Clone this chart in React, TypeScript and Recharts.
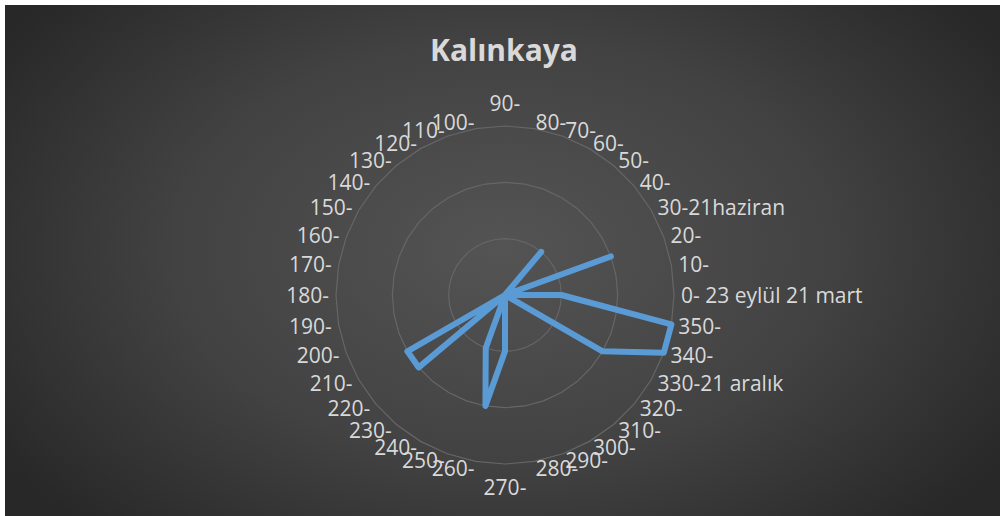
import React from 'react'
import { RadarChart, Radar, PolarGrid, PolarAngleAxis, PolarRadiusAxis } from 'recharts'

// categories clockwise from the top, as in the sheet
const categories = [
  '90-', '80-', '70-', '60-', '50-', '40-', '30-21haziran', '20-', '10-',
  '0- 23 eylül 21 mart', '350-', '340-', '330-21 aralık', '320-', '310-', '300-', '290-', '280-',
  '270-', '260-', '250-', '240-', '230-', '220-', '210-', '200-', '190-',
  '180-', '170-', '160-', '150-', '140-', '130-', '120-', '110-', '100-',
]
const values = [
  0, 0, 0, 0, 1, 0, 0, 2, 0,
  1, 3, 3, 2, 0, 0, 0, 0, 0,
  1, 2, 1, 0, 0, 2, 2, 0, 0,
  0, 0, 0, 0, 0, 0, 0, 0, 0,
]

const CX = 505
const CY = 295
const R = 169
const LABEL = '#d9d9d9'
const FONT = '"Open Sans", "Noto Sans", sans-serif'

function AngleTick(props: any) {
  const { payload } = props
  const a = (payload.coordinate * Math.PI) / 180
  const cos = Math.cos(a)
  const sin = Math.sin(a)
  const anchor: 'start' | 'middle' | 'end' = cos > 0.01 ? 'start' : cos < -0.01 ? 'end' : 'middle'
  const r = anchor === 'middle' ? 192 : 176
  const x = CX + r * cos
  const y = CY - r * sin
  return (
    <text x={x} y={y} textAnchor={anchor} dominantBaseline="central" fill={LABEL} fontSize={21} fontFamily={FONT}>
      {payload.value}
    </text>
  )
}

export default function App() {
  const data = categories.map((c, i) => ({ name: c, v: values[i] }))

  return (
    <div style={{ position: 'absolute', left: 0, top: 0, width: 1000, height: 516, background: '#fff' }}>
      <div
        style={{
          position: 'absolute', left: 5, top: 5, width: 995, height: 511,
          background: 'radial-gradient(ellipse 60% 75% at 50% 48%, #545454 0%, #424242 55%, #282828 100%)',
        }}
      />
      <div style={{ position: 'absolute', left: 0, top: 0, width: 1000, height: 516 }}>
        <div style={{ position: 'absolute', left: 0, width: 1008, top: 29, textAlign: 'center', color: LABEL, fontFamily: FONT, fontWeight: 700, fontSize: 30 }}>
          Kalınkaya
        </div>
        <RadarChart width={1000} height={516} data={data} cx={CX} cy={CY} outerRadius={R} margin={{ top: 0, right: 0, bottom: 0, left: 0 }}>
          <PolarGrid gridType="polygon" radialLines={false} stroke="#666666" strokeWidth={1.2} />
          <PolarRadiusAxis domain={[0, 3]} tickCount={4} tick={false} axisLine={false} />
          <PolarAngleAxis dataKey="name" tick={<AngleTick />} tickLine={false} axisLine={false} />
          <Radar dataKey="v" stroke="#5b9bd5" strokeWidth={6} strokeLinejoin="round" fill="none" fillOpacity={0} dot={false} isAnimationActive={false} />
        </RadarChart>
      </div>
    </div>
  )
}
